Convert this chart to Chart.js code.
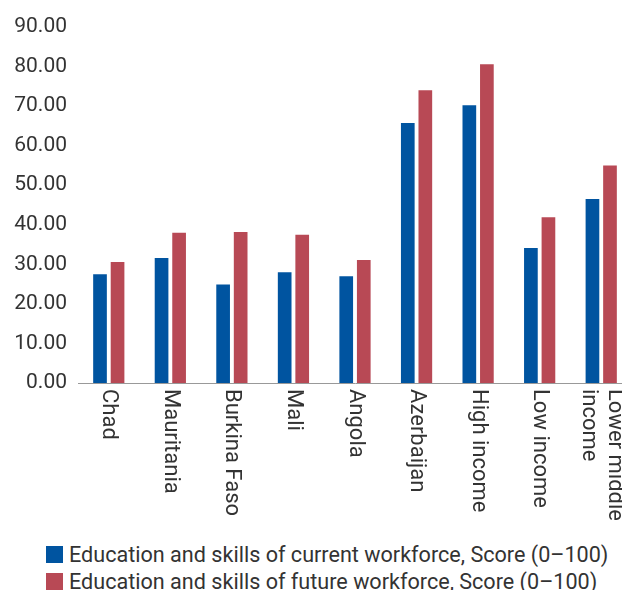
<!DOCTYPE html>
<html>
<head>
<meta charset="utf-8">
<script src="https://cdn.jsdelivr.net/npm/chart.js@4"></script>
<style>
  body { margin: 0; background: #fff; overflow: hidden; }
  #wrap { position: relative; width: 622px; height: 590px; overflow: hidden; }
  #grafico { display: block; }
  #legend { position: absolute; left: 46px; top: 541px; font: 21.6px Roboto, sans-serif; color: #333; }
  .row { display: flex; align-items: center; height: 27px; white-space: nowrap; }
  .box { width: 17px; height: 17px; margin-right: 6px; flex: none; }
</style>
</head>
<body>
<div id="wrap">
  <canvas id="grafico" width="640" height="535"></canvas>
  <div id="legend"></div>
</div>
<script>
const categorias = ["Chad", "Mauritania", "Burkina Faso", "Mali", "Angola", "Azerbaijan", "High income", "Low income", ["Lower middle", "income"]];
const actual = [27.5, 31.6, 24.9, 28.0, 27.0, 65.7, 70.2, 34.1, 46.5];
const futura = [30.6, 38.0, 38.2, 37.5, 31.1, 74.0, 80.6, 41.9, 55.0];
const etiquetasSeries = ["Education and skills of current workforce, Score (0–100)", "Education and skills of future workforce, Score (0–100)"];
const colores = ["#0054a0", "#b84955"];

// etiquetas del eje x giradas hacia abajo, como en el original
const etiquetasX = {
  id: "etiquetasX",
  afterDraw(chart) {
    const { ctx, scales: { x } } = chart;
    ctx.save();
    ctx.font = "22px Roboto";
    ctx.fillStyle = "#333";
    ctx.textAlign = "left";
    ctx.textBaseline = "middle";
    categorias.forEach((lab, i) => {
      const lineas = Array.isArray(lab) ? lab : [lab];
      ctx.save();
      ctx.translate(x.getPixelForTick(i), x.top + 6);
      ctx.rotate(Math.PI / 2);
      lineas.forEach((linea, j) => {
        ctx.fillText(linea, 0, (j - (lineas.length - 1) / 2) * 26);
      });
      ctx.restore();
    });
    ctx.restore();
  }
};

const datos = {
  labels: categorias,
  datasets: [
    { label: etiquetasSeries[0], data: actual, backgroundColor: colores[0] },
    { label: etiquetasSeries[1], data: futura, backgroundColor: colores[1] }
  ]
};

const configuracion = {
  type: "bar",
  data: datos,
  options: {
    responsive: false,
    animation: false,
    layout: { padding: { top: 27, right: 8, left: 0, bottom: 0 } },
    datasets: { bar: { categoryPercentage: 0.57, barPercentage: 0.78 } },
    plugins: { legend: { display: false }, tooltip: { enabled: false } },
    scales: {
      x: {
        grid: { display: false, drawTicks: false },
        border: { color: "#999", width: 1 },
        ticks: { display: false },
        afterFit: (scale) => { scale.height = 152; }
      },
      y: {
        min: 0,
        max: 90,
        grid: { display: false, drawTicks: false },
        border: { display: false },
        ticks: {
          stepSize: 10,
          padding: 11,
          color: "#333",
          font: { family: "Roboto", size: 21 },
          callback: (v) => v.toFixed(2)
        },
        afterFit: (scale) => { scale.width = 78; }
      }
    }
  },
  plugins: [etiquetasX]
};

const grafico = new Chart(document.getElementById("grafico"), configuracion);

// leyenda en HTML, dos filas
const leyenda = document.getElementById("legend");
datos.datasets.forEach((ds) => {
  const fila = document.createElement("div");
  fila.className = "row";
  const caja = document.createElement("span");
  caja.className = "box";
  caja.style.background = ds.backgroundColor;
  const texto = document.createElement("span");
  texto.textContent = ds.label;
  fila.appendChild(caja);
  fila.appendChild(texto);
  leyenda.appendChild(fila);
});
</script>
</body>
</html>
